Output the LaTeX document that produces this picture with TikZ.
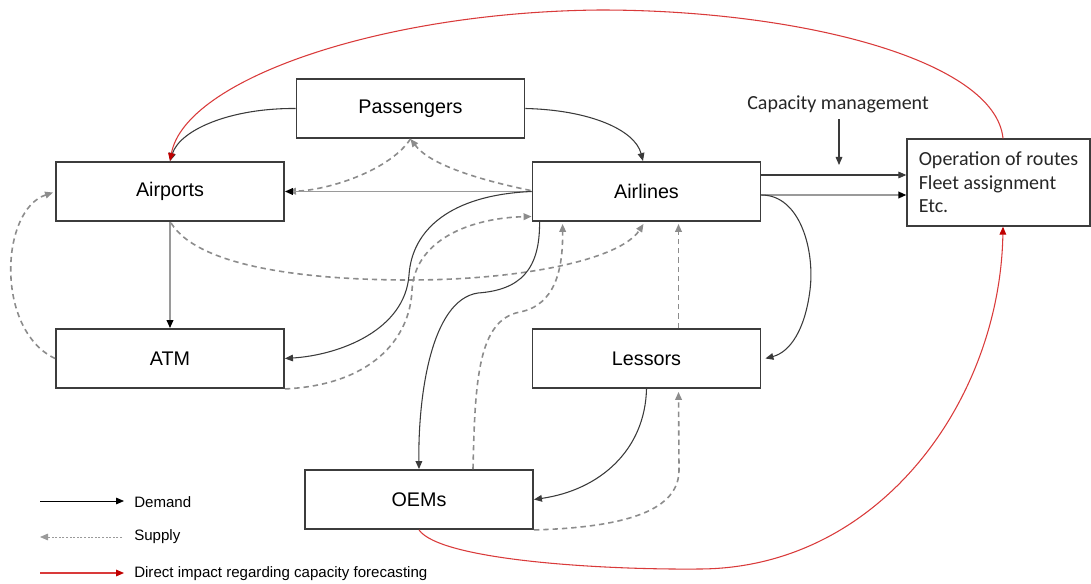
\documentclass[tikz,border=0pt]{standalone}
\usepackage{fontspec}
\setmainfont{Liberation Sans}
\newfontfamily\calfont{Carlito}
\usetikzlibrary{arrows.meta,calc}
\definecolor{bx}{HTML}{3C3C3C}
\definecolor{dm}{HTML}{3A3A3A}
\definecolor{sp}{HTML}{8C8C8C}
\definecolor{lg}{HTML}{9A9A9A}
\definecolor{re}{HTML}{D93A3A}
\definecolor{rd}{HTML}{C00000}
\definecolor{tx}{HTML}{262626}

\begin{document}
\begin{tikzpicture}[x=0.75pt,y=-0.75pt,
  box/.style={draw=bx, line width=1.4pt, fill=white, minimum width=171pt, minimum height=44.25pt, font=\fontsize{14.8}{17}\selectfont},
  demand/.style={draw=dm, line width=0.8pt, -{Triangle[length=6pt,width=5pt]}},
  light/.style={draw=lg, line width=1.2pt, -{Triangle[length=6pt,width=5pt,color=black]}},
  supply/.style={draw=sp, line width=1.2pt, dash pattern=on 4pt off 3pt, -{Triangle[length=6pt,width=5pt]}},
  impact/.style={draw=re, line width=0.8pt, -{Triangle[length=6pt,width=5pt,color=rd]}},
  legtext/.style={anchor=west, inner sep=0pt, font=\fontsize{11.3}{13}\selectfont}
]
  \useasboundingbox (0,0) rectangle (1091,584);

  % Boxes
  \node[box] (pass) at (410.5,108.5) {Passengers};
  \node[box] (airp) at (170,191.5) {Airports};
  \node[box] (airl) at (646.5,191.5) {Airlines};
  \node[box] (atm) at (170,358.5) {ATM};
  \node[box] (less) at (646.5,358.5) {Lessors};
  \node[box] (oem) at (419,499.5) {OEMs};
  \node[draw=bx, line width=1pt, minimum width=137.25pt, minimum height=65.25pt, align=left, text=tx,
    font=\calfont\fontsize{15}{17.6}\selectfont] (oper) at (998.5,182.5) {Operation of routes\\Fleet assignment\\Etc.};

  % Capacity management
  \node[font=\calfont\fontsize{15}{17}\selectfont, text=tx, inner sep=1pt] (capm) at (838,104) {Capacity management};
  \coordinate (capend) at (839,165);
  \draw[demand] ($(capm.south)+(1,5)$) -- (capend);

  % Airlines -> operation
  \draw[demand] ($(airl.east)+(0,-16.5)$) -- ($(oper.west)+(0,-7.5)$);
  \draw[light] ($(airl.east)+(0,3.5)$) -- ($(oper.west)+(0,12.5)$);

  % Supply
  \draw[supply] ($(airl.west)+(-1,-1)$) .. controls (480,180) and (430,165) .. (pass.south);
  \draw[supply] (pass.south) .. controls (390,170) and (330,190) .. ($(airp.east)+(3,0)$);
  \draw[supply] ($(airp.south)+(1,1)$) .. controls (200,270) and (320,280) .. (410,280) .. controls (520,280) and (620,260) .. ($(airl.south)+(-3,2)$);
  \draw[supply] (atm.west) .. controls (-5,330) and (0,210) .. ($(airp.west)+(-2,1)$);
  \draw[supply] (atm.south east) .. controls (370,385) and (410,340) .. (412,290) .. controls (415,240) and (470,218) .. ($(airl.west)+(0,25)$);
  \draw[supply] ($(oem.north)+(54,0)$) .. controls (475,380) and (478,320) .. (520,312) .. controls (555,305) and (563,270) .. ($(airl.south west)+(31,2)$);
  \draw[supply] ($(less.north)+(32,0)$) -- ($(airl.south)+(32,2)$);
  \draw[supply] (oem.south east) .. controls (640,527) and (679,505) .. (679,470) -- ($(less.south)+(32,3)$);

  % Demand
  \draw[demand] (pass.west) .. controls (230,108) and (180,130) .. (airp.north);
  \draw[demand] (pass.east) .. controls (590,110) and (635,130) .. ($(airl.north)+(-3.5,0)$);
  \draw[light] (airl.west) -- (airp.east);
  \draw[light] (airp.south) -- (atm.north);
  \draw[demand] (airl.west) .. controls (450,195) and (412,230) .. (409,275) .. controls (405,330) and (340,355) .. (atm.east);
  \draw[demand] ($(airl.south west)+(8,0)$) .. controls (540,270) and (520,290) .. (478,293) .. controls (430,300) and (418,400) .. (oem.north);
  \draw[demand] ($(airl.east)+(0,3.5)$) .. controls (800,195) and (815,250) .. (810,290) .. controls (805,330) and (790,352) .. ($(less.east)+(4,0)$);
  \draw[demand] (less.south) .. controls (645,450) and (600,490) .. (oem.east);

  % Direct impact
  \draw[impact] ($(oper.north)+(4.5,0)$) .. controls (995,60) and (800,10) .. (600,10) .. controls (380,12) and (185,80) .. (airp.north);
  \draw[impact] (oem.south) .. controls (440,560) and (600,570) .. (700,569) .. controls (880,568) and (1000,400) .. ($(oper.south)+(4.5,0)$);

  % Legend
  \coordinate (d0) at (40,501);
  \coordinate (d1) at (124,501);
  \coordinate (s0) at (122,537);
  \coordinate (s1) at (40,537);
  \coordinate (r0) at (40,573);
  \coordinate (r1) at (124,573);
  \draw[demand, draw=black, line width=0.6pt] (d0) -- (d1);
  \draw[draw=lg, line width=0.6pt, dash pattern=on 1.5pt off 1.2pt, -{Triangle[length=6pt,width=5pt,color=lg]}] (s0) -- (s1);
  \draw[impact] (r0) -- (r1);
  \node[legtext] (ldem) at (134,502) {Demand};
  \node[legtext] (lsup) at (134,537) {Supply};
  \node[legtext] (limp) at (134,574) {Direct impact regarding capacity forecasting};
\end{tikzpicture}
\end{document}
